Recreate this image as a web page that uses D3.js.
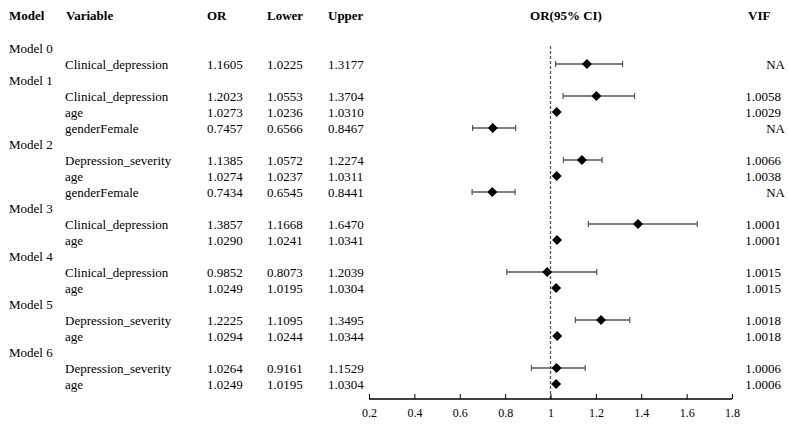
<!DOCTYPE html>
<html>
<head>
<meta charset="utf-8">
<script src="https://cdn.jsdelivr.net/npm/d3@7"></script>
</head>
<body style="margin:0; background:#fff">
<script>
var modelNames = ["Model 0", "Model 1", "Model 2", "Model 3", "Model 4", "Model 5", "Model 6"];
var modelIdx  = [0, 1, 1, 1, 2, 2, 2, 3, 3, 4, 4, 5, 5, 6, 6];
var variables = ["Clinical_depression",
                 "Clinical_depression", "age", "genderFemale",
                 "Depression_severity", "age", "genderFemale",
                 "Clinical_depression", "age",
                 "Clinical_depression", "age",
                 "Depression_severity", "age",
                 "Depression_severity", "age"];
var orVals    = [1.1605, 1.2023, 1.0273, 0.7457, 1.1385, 1.0274, 0.7434, 1.3857, 1.0290, 0.9852, 1.0249, 1.2225, 1.0294, 1.0264, 1.0249];
var lowerVals = [1.0225, 1.0553, 1.0236, 0.6566, 1.0572, 1.0237, 0.6545, 1.1668, 1.0241, 0.8073, 1.0195, 1.1095, 1.0244, 0.9161, 1.0195];
var upperVals = [1.3177, 1.3704, 1.0310, 0.8467, 1.2274, 1.0311, 0.8441, 1.6470, 1.0341, 1.2039, 1.0304, 1.3495, 1.0344, 1.1529, 1.0304];
var vifVals   = ["NA", "1.0058", "1.0029", "NA", "1.0066", "1.0038", "NA", "1.0001", "1.0001", "1.0015", "1.0015", "1.0018", "1.0018", "1.0006", "1.0006"];
var xTicks    = [0.2, 0.4, 0.6, 0.8, 1, 1.2, 1.4, 1.6, 1.8];

var width = 790, height = 425;
var serif = "Liberation Serif";

// build display rows: model header row followed by its variables
var rows = [];
modelNames.forEach(function(m, mi){
  rows.push({type: "model", label: m});
  modelIdx.forEach(function(k, i){
    if (k === mi) rows.push({type: "var", i: i});
  });
});

var y = d3.scaleLinear().domain([0, rows.length - 1]).range([48, 384]);
var x = d3.scaleLinear().domain([0.2, 1.8]).range([369, 732]);

var svg = d3.select("body").append("svg")
            .attr("width", width)
            .attr("height", height)
            .attr("font-family", serif)
            .attr("font-size", 13);

function txt(sel){
  return sel.attr("font-family", serif).attr("font-size", 13).attr("fill", "#000");
}

// headers
var headers = [["Model", 9, "start"], ["Variable", 66, "start"], ["OR", 207, "start"],
               ["Lower", 267, "start"], ["Upper", 328, "start"], ["OR(95% CI)", 566, "middle"], ["VIF", 748, "start"]];
txt(svg.selectAll("text.hdr").data(headers).enter().append("text"))
   .attr("class", "hdr")
   .attr("font-weight", "bold")
   .attr("x", function(d){ return d[1]; })
   .attr("y", 20)
   .attr("text-anchor", function(d){ return d[2]; })
   .text(function(d){ return d[0]; });

// reference line at OR = 1
svg.append("line")
   .attr("x1", x(1)).attr("x2", x(1))
   .attr("y1", 46).attr("y2", 399)
   .attr("stroke", "#555").attr("stroke-width", 1.3)
   .attr("stroke-dasharray", "3,2");

var g = svg.selectAll("g.row").data(rows).enter().append("g")
           .attr("class", "row")
           .attr("transform", function(d, k){ return "translate(0," + y(k) + ")"; });

txt(g.filter(function(d){ return d.type === "model"; }).append("text"))
 .attr("x", 9).attr("y", 4.5)
 .text(function(d){ return d.label; });

var v = g.filter(function(d){ return d.type === "var"; });
txt(v.append("text")).attr("x", 65).attr("y", 4.5).text(function(d){ return variables[d.i]; });
txt(v.append("text")).attr("x", 207).attr("y", 4.5).text(function(d){ return orVals[d.i].toFixed(4); });
txt(v.append("text")).attr("x", 267).attr("y", 4.5).text(function(d){ return lowerVals[d.i].toFixed(4); });
txt(v.append("text")).attr("x", 328).attr("y", 4.5).text(function(d){ return upperVals[d.i].toFixed(4); });
txt(v.append("text")).attr("x", function(d){ return vifVals[d.i] === "NA" ? 785 : 781; })
 .attr("y", 4.5).attr("text-anchor", "end")
 .text(function(d){ return vifVals[d.i]; });

// CI bars
var barColor = "#555";
v.append("line")
 .attr("x1", function(d){ return x(lowerVals[d.i]); })
 .attr("x2", function(d){ return x(upperVals[d.i]); })
 .attr("stroke", barColor).attr("stroke-width", 1.5);
[lowerVals, upperVals].forEach(function(arr){
  v.append("line")
   .attr("x1", function(d){ return x(arr[d.i]); })
   .attr("x2", function(d){ return x(arr[d.i]); })
   .attr("y1", -3).attr("y2", 3)
   .attr("stroke", barColor).attr("stroke-width", 1.2);
});

// diamonds
v.append("path")
 .attr("d", "M0,-5L5,0L0,5L-5,0Z")
 .attr("transform", function(d){ return "translate(" + x(orVals[d.i]) + ",0)"; })
 .attr("fill", "#000");

// x axis
var axis = d3.axisBottom(x).tickValues(xTicks).tickSize(-5).tickPadding(9)
             .tickFormat(function(d){ return String(d); });
var ax = svg.append("g").attr("transform", "translate(0,399)").call(axis)
            .attr("font-family", serif).attr("font-size", 12);
ax.select(".domain").attr("stroke", "#000").attr("stroke-width", 1.3).attr("d", "M369,0H732");
ax.selectAll(".tick line").attr("stroke", "#000");
ax.selectAll(".tick text").attr("fill", "#000");
</script>
</body>
</html>
